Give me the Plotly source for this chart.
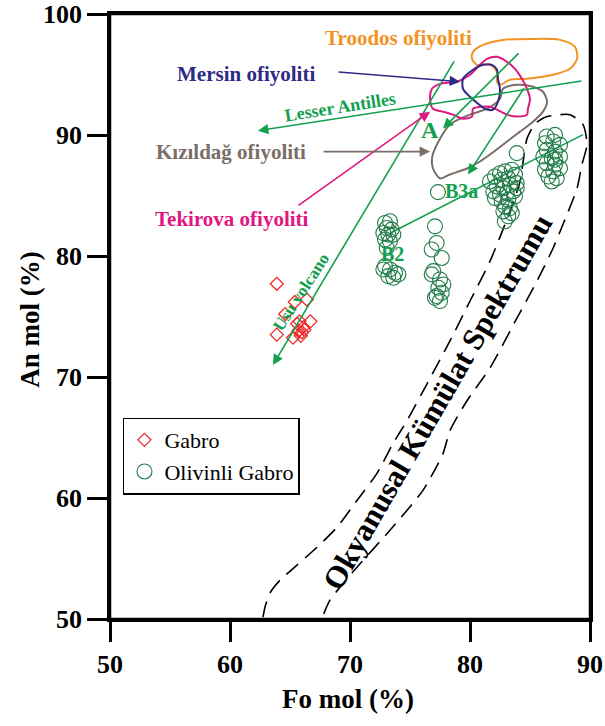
import plotly.graph_objects as go

# ---------------- data ----------------
gabro_fo = [63.9, 65.4, 66.4, 64.6, 66.7, 65.8, 66.1, 65.7, 63.9, 65.25, 66.0, 65.6, 65.9, 66.2]
gabro_an = [77.7, 76.2, 76.4, 75.2, 74.6, 74.6, 74.1, 73.8, 73.5, 73.25, 73.7, 74.4, 73.4, 73.9]

olgab_fo = [
    # Fo ~73 group
    72.92, 73.33, 73.06, 73.47, 72.78, 73.19, 73.61, 72.92, 73.33, 73.06,
    72.92, 73.33, 73.75, 73.19, 73.61, 74.03, 72.78,
    # Fo ~77.5 group
    77.08, 77.22, 76.81, 77.64, 76.94, 76.81, 77.50, 77.78, 77.36, 77.64, 77.22, 77.50, 77.08,
    # single points
    77.33, 83.9,
    # Fo ~83 group
    81.67, 82.08, 82.50, 82.92, 83.48, 83.75, 83.19, 82.64, 82.22, 82.78, 83.33, 83.89,
    83.61, 83.06, 82.50, 82.08, 82.64, 83.19, 83.75, 82.92, 83.33, 82.78, 83.19, 83.48,
    83.89, 81.94, 82.9,
    # Fo ~87 group
    86.39, 87.08, 86.25, 86.94, 87.50, 86.39, 87.08, 86.11, 86.81, 87.50, 86.39, 87.08,
    86.25, 86.94, 87.50, 86.53, 87.22, 86.81, 87.08,
]
olgab_an = [
    82.73, 82.87, 82.31, 82.18, 81.90, 81.77, 81.77, 81.36, 81.22, 80.67,
    79.16, 78.89, 78.61, 78.34, 78.20, 78.48, 78.89,
    82.45, 81.08, 80.54, 79.84, 78.75, 78.48, 78.06, 77.65, 77.37, 76.96, 76.69, 76.28, 76.55,
    85.28, 88.5,
    86.16, 86.57, 86.84, 86.99, 87.13, 86.71, 86.43, 86.30, 85.75, 85.61, 85.89, 86.02,
    85.34, 85.20, 85.07, 84.79, 84.51, 84.65, 84.93, 84.10, 83.96, 83.69, 83.28, 83.55,
    85.61, 85.34, 82.87,
    89.87, 90.01, 89.32, 89.46, 89.18, 88.77, 88.63, 88.22, 88.08, 88.22, 87.67, 87.54,
    87.13, 86.99, 87.26, 86.57, 86.43, 86.16, 87.95,
]

troodos_fo = [80.25, 81.08, 82.75, 85.0, 87.5, 88.75, 88.92, 88.33, 86.92, 84.75, 83.33, 82.5, 82.25, 82.25, 81.67, 80.58, 80.17, 80.25]
troodos_an = [96.87, 97.45, 97.86, 97.94, 97.86, 97.28, 96.29, 95.47, 94.98, 94.65, 94.56, 94.15, 94.4, 95.22, 95.8, 95.8, 96.29, 96.87]

mersin_fo = [79.42, 80.25, 81.08, 81.83, 82.25, 82.33, 82.5, 82.33, 81.92, 81.25, 80.67, 80.0, 79.42, 79.42]
mersin_an = [94.65, 95.39, 95.8, 95.8, 95.39, 94.65, 93.74, 92.75, 92.09, 92.17, 92.59, 93.16, 93.82, 94.65]

tekirova_fo = [76.83, 77.5, 78.92, 80.0, 80.83, 81.42, 82.25, 83.08, 83.75, 84.33, 84.75, 85.0, 84.83, 84.75,
               83.92, 83.08, 82.25, 81.67, 81.0, 80.25, 80.17, 79.42, 78.58, 77.75, 76.92, 76.67, 76.83]
tekirova_an = [93.82, 94.23, 94.4, 94.98, 95.8, 96.29, 96.46, 96.05, 95.47, 94.65, 93.82, 93.0, 92.17, 91.68,
               91.52, 91.68, 92.09, 92.34, 92.34, 92.17, 91.52, 91.35, 91.68, 91.93, 92.17, 93.0, 93.82]

kizildag_fo = [77.08, 78.33, 80.0, 81.42, 82.5, 82.75, 83.92, 85.25, 86.08, 86.42, 86.08, 85.25, 84.17, 83.08,
               81.67, 80.83, 79.75, 78.33, 77.5, 76.92, 76.83, 77.08]
kizildag_an = [88.88, 90.86, 91.68, 92.17, 93.0, 93.82, 94.15, 93.99, 93.57, 92.75, 91.93, 91.1, 90.28, 89.46,
               88.39, 87.81, 87.23, 86.74, 86.41, 87.23, 88.06, 88.88]

cumulate_fo = [62.75, 62.92, 63.33, 64.17, 65.58, 67.25, 68.92, 70.58, 72.25, 73.58, 74.75, 76.42, 78.33, 80.0,
               81.67, 83.33, 84.17, 84.75, 85.42, 86.42, 88.33, 89.42, 89.75, 89.33, 88.92, 87.75, 86.92, 85.58,
               83.92, 81.67, 79.75, 78.33, 77.75, 76.08, 73.33, 70.58, 68.33, 67.67]
cumulate_an = [50.16, 50.99, 52.14, 53.21, 54.45, 55.93, 57.58, 59.8, 62.03, 64.5, 66.39, 69.44, 72.98, 76.28,
               79.57, 83.69, 86.16, 89.7, 90.94, 91.52, 91.68, 90.86, 89.21, 87.56, 85.58, 82.62, 80.64, 77.92,
               74.88, 70.76, 68.04, 65.57, 63.67, 60.63, 57.33, 54.28, 51.56, 50.08]

# trend lines: (tail Fo, tail An, head Fo, head An)
trend_lesser = (89.42, 94.48, 62.33, 90.36)
trend_usu = (78.75, 96.21, 63.58, 71.0)
trend_a = (84.17, 96.87, 77.75, 90.53)
trend_b = (84.58, 93.99, 79.83, 86.74)
trend_b3a = (89.42, 90.03, 73.33, 81.88)

# label pointer arrows: (tail Fo, tail An, head Fo, head An)
ptr_mersin = (68.92, 95.22, 79.17, 94.4)
ptr_tekirova = (65.58, 84.1, 76.67, 91.93)
ptr_kizildag = (67.67, 88.63, 76.67, 88.63)

x_ticks = [50, 60, 70, 80, 90]
y_ticks = [50, 60, 70, 80, 90, 100]

# ---------------- style ----------------
FONT = "Liberation Serif"
GREEN = "#13a04e"
CIRC = "#237c4b"
RED = "#ee2a2a"
ORANGE = "#f39224"
NAVY = "#2e2a86"
MAGENTA = "#e0177f"
GRAY = "#7a6e67"

fig = go.Figure()

def outline(xs, ys, color, width=2):
    fig.add_trace(go.Scatter(x=xs, y=ys, mode="lines", line=dict(color=color, width=width, shape="spline", smoothing=0.8),
                             showlegend=False, hoverinfo="skip"))

fig.add_trace(go.Scatter(x=cumulate_fo, y=cumulate_an, mode="lines",
                         line=dict(color="black", width=1.6, dash="16px,9px", shape="spline", smoothing=0.6),
                         showlegend=False, hoverinfo="skip"))
outline(kizildag_fo, kizildag_an, GRAY)
outline(troodos_fo, troodos_an, ORANGE)
outline(tekirova_fo, tekirova_an, MAGENTA)
outline(mersin_fo, mersin_an, NAVY)

fig.add_trace(go.Scatter(x=[trend_b3a[0], trend_b3a[2]], y=[trend_b3a[1], trend_b3a[3]], mode="lines",
                         line=dict(color=GREEN, width=1.6), showlegend=False, hoverinfo="skip"))

fig.add_trace(go.Scatter(x=gabro_fo, y=gabro_an, mode="markers", name="Gabro",
                         marker=dict(symbol="diamond-open", size=10, color=RED, line=dict(width=1.3, color=RED))))
fig.add_trace(go.Scatter(x=olgab_fo, y=olgab_an, mode="markers", name="Olivinli Gabro",
                         marker=dict(symbol="circle-open", size=15, color=CIRC, line=dict(width=1.1, color=CIRC))))

ann = []
def arrow(t, color, width=1.6, size=1.3):
    ann.append(dict(x=t[2], y=t[3], ax=t[0], ay=t[1], xref="x", yref="y", axref="x", ayref="y",
                    text="", showarrow=True, arrowhead=2, arrowsize=size, arrowwidth=width, arrowcolor=color))

for t in (trend_lesser, trend_usu, trend_a, trend_b):
    arrow(t, GREEN)
arrow(ptr_mersin, NAVY)
arrow(ptr_tekirova, MAGENTA)
arrow(ptr_kizildag, GRAY)

def label(x, y, text, color, size, angle=0, weight="bold"):
    ann.append(dict(x=x, y=y, xref="x", yref="y", text=text, showarrow=False, textangle=angle,
                    xanchor="center", yanchor="middle",
                    font=dict(family=FONT, size=size, color=color, weight=weight)))

label(74.0, 98.0, "Troodos ofiyoliti", ORANGE, 21)
label(61.33, 95.06, "Mersin ofiyoliti", NAVY, 21)
label(60.08, 88.63, "Kızıldağ ofiyoliti", GRAY, 21)
label(60.17, 83.03, "Tekirova ofiyoliti", MAGENTA, 21)
label(69.17, 92.35, "Lesser Antilles", GREEN, 18, angle=-9)
label(65.9, 77.0, "Usu volcano", GREEN, 17, angle=-57)
label(76.67, 90.44, "A", GREEN, 24)
label(79.33, 85.34, "B3a", GREEN, 20)
label(73.58, 80.15, "B2", GREEN, 20)
label(77.25, 67.9, "Okyanusal Kümülat Spektrumu", "black", 31, angle=-60)

ann.append(dict(x=-0.167, y=0.496, xref="paper", yref="paper", text="An mol (%)", showarrow=False, textangle=-90,
                xanchor="center", yanchor="middle",
                font=dict(family=FONT, size=27, color="black", weight="bold")))
ann.append(dict(x=0.496, y=-0.132, xref="paper", yref="paper", text="Fo mol (%)", showarrow=False,
                xanchor="center", yanchor="middle",
                font=dict(family=FONT, size=27, color="black", weight="bold")))

axis_common = dict(showline=True, linewidth=2.5, linecolor="black", mirror=True, ticks="outside",
                   ticklen=20, tickwidth=2.5, tickcolor="black", showgrid=False, zeroline=False,
                   automargin=False, ticklabeloverflow="allow",
                   tickfont=dict(family=FONT, size=26, color="black", weight="bold"))

fig.update_layout(
    width=605, height=726,
    margin=dict(l=110, r=15, t=14, b=107),
    paper_bgcolor="white", plot_bgcolor="white",
    xaxis=dict(range=[50, 90], tickvals=x_ticks, **axis_common),
    yaxis=dict(range=[50, 100], tickvals=y_ticks, **axis_common),
    annotations=ann,
    shapes=[dict(type="rect", xref="paper", yref="paper", x0=0, x1=1, y0=0, y1=1,
                 line=dict(color="black", width=2.5), layer="above")],
    legend=dict(x=0.027, y=0.333, xanchor="left", yanchor="top", bgcolor="white",
                bordercolor="black", borderwidth=1.5, font=dict(family=FONT, size=22, color="black"),
                tracegroupgap=0, itemwidth=30),
    showlegend=True,
)

fig.write_html("out.html", config={"displayModeBar": False},
               post_script="document.body.style.margin='0';")
